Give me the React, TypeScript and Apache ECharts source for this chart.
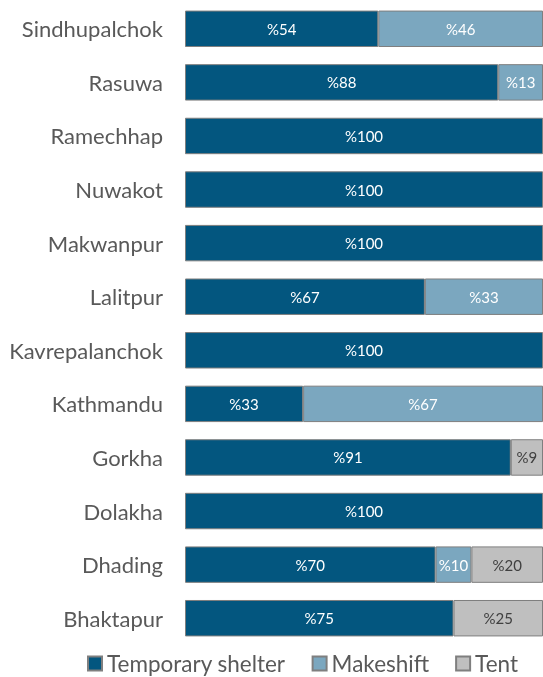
import React, { useEffect, useRef } from "react";
import * as echarts from "echarts";

const districts = [
  "Sindhupalchok",
  "Rasuwa",
  "Ramechhap",
  "Nuwakot",
  "Makwanpur",
  "Lalitpur",
  "Kavrepalanchok",
  "Kathmandu",
  "Gorkha",
  "Dolakha",
  "Dhading",
  "Bhaktapur",
];
const temporaryShelter = [54, 87.5, 100, 100, 100, 67, 100, 33, 91, 100, 70, 75];
const makeshift = [46, 12.5, 0, 0, 0, 33, 0, 67, 0, 0, 10, 0];
const tent = [0, 0, 0, 0, 0, 0, 0, 0, 9, 0, 20, 25];
const seriesNames = ["Temporary shelter", "Makeshift", "Tent"];

const FONT = "Lato";

export default function App() {
  const ref = useRef<HTMLDivElement>(null);
  useEffect(() => {
    if (!ref.current) return;
    const chart = echarts.init(ref.current, undefined, { renderer: "svg" });
    const mk = (name: string, vals: number[], color: string, labelColor: string) => ({
      name,
      type: "bar",
      stack: "total",
      barWidth: "68%",
      data: vals.map((v) => (v > 0 ? v : null)),
      itemStyle: { color, borderColor: "#7f7f7f", borderWidth: 1 },
      label: {
        show: true,
        position: "inside",
        color: labelColor,
        fontFamily: FONT,
        fontSize: 15,
        formatter: (p: any) => (p.value ? "%" + Math.round(p.value) : ""),
      },
    });
    chart.setOption({
      animation: false,
      grid: { left: 185, right: 0, top: 2, bottom: 32, containLabel: false },
      xAxis: {
        type: "value",
        min: 0,
        max: 100,
        show: false,
      },
      yAxis: {
        type: "category",
        data: districts,
        inverse: true,
        axisLine: { show: false },
        axisTick: { show: false },
        axisLabel: {
          color: "#595959",
          fontFamily: FONT,
          fontSize: 22,
          margin: 22,
        },
      },
      legend: {
        top: 652,
        left: 87,
        padding: 0,
        itemWidth: 14,
        itemHeight: 14,
        itemGap: 26,
        icon: "rect",
        data: seriesNames,
        textStyle: { color: "#595959", fontFamily: FONT, fontSize: 22.5, lineHeight: 20 },
      },
      series: [
        mk(seriesNames[0], temporaryShelter, "#03567f", "#ffffff"),
        mk(seriesNames[1], makeshift, "#7ba7bf", "#ffffff"),
        mk(seriesNames[2], tent, "#bfbfbf", "#404040"),
      ],
    });
    return () => chart.dispose();
  }, []);
  return (
    <div
      ref={ref}
      style={{ width: 543, height: 677, position: "fixed", left: 0, top: 0 }}
    />
  );
}
